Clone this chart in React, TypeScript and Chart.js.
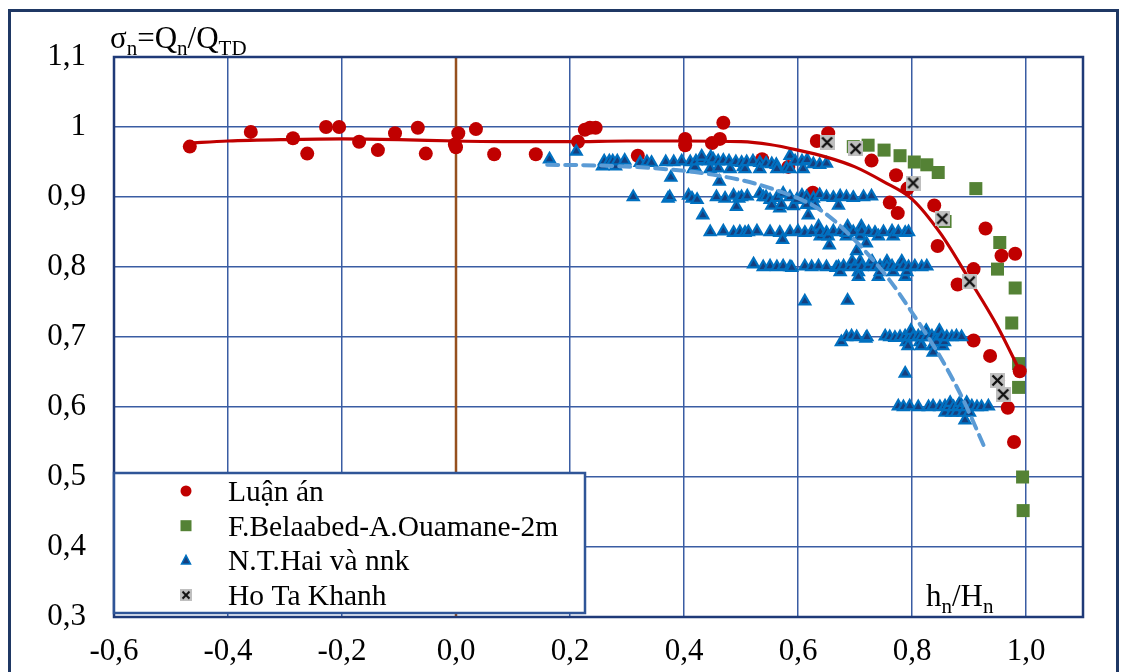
import React, { useEffect, useRef } from 'react';
import { Chart, registerables } from 'chart.js';

Chart.register(...registerables);

const SERIF = '"Liberation Serif", "Times New Roman", serif';

const xTicks = [-0.6, -0.4, -0.2, 0, 0.2, 0.4, 0.6, 0.8, 1.0];
const xTickLabels = ['-0,6', '-0,4', '-0,2', '0,0', '0,2', '0,4', '0,6', '0,8', '1,0'];
const yTicks = [0.3, 0.4, 0.5, 0.6, 0.7, 0.8, 0.9, 1.0, 1.1];
const yTickLabels = ['0,3', '0,4', '0,5', '0,6', '0,7', '0,8', '0,9', '1', '1,1'];

const seriesNames = ['Luận án', 'F.Belaabed-A.Ouamane-2m', 'N.T.Hai và nnk', 'Ho Ta Khanh'];

const luanAn: [number, number][] = [
  [-0.467, 0.972], [-0.36, 0.993], [-0.286, 0.984], [-0.261, 0.962], [-0.228, 1.0], [-0.205, 1.0],
  [-0.17, 0.979], [-0.137, 0.967], [-0.107, 0.991], [-0.067, 0.999], [-0.053, 0.962], [-0.002, 0.975],
  [0.0, 0.971], [0.004, 0.991], [0.035, 0.997], [0.067, 0.961], [0.14, 0.961], [0.214, 0.979],
  [0.226, 0.996], [0.235, 0.999], [0.245, 0.999], [0.319, 0.959], [0.402, 0.983], [0.402, 0.974],
  [0.449, 0.977], [0.463, 0.983], [0.469, 1.006], [0.537, 0.954], [0.583, 0.943], [0.626, 0.906],
  [0.633, 0.98], [0.653, 0.991], [0.729, 0.952], [0.772, 0.931], [0.792, 0.912], [0.761, 0.892],
  [0.775, 0.877], [0.839, 0.888], [0.845, 0.83], [0.929, 0.855], [0.957, 0.816], [0.981, 0.819],
  [0.908, 0.797], [0.88, 0.775], [0.908, 0.695], [0.937, 0.673], [0.989, 0.651], [0.968, 0.599],
  [0.979, 0.55], [0.951, 0.638],
];

const luanAnTrend: [number, number][] = [
  [-0.47, 0.977], [-0.4, 0.98], [-0.3, 0.982], [-0.2, 0.983], [-0.1, 0.982], [0, 0.98], [0.1, 0.979],
  [0.2, 0.979], [0.3, 0.98], [0.4, 0.98], [0.5, 0.979], [0.55, 0.975], [0.6, 0.967], [0.65, 0.957],
  [0.7, 0.943], [0.75, 0.922], [0.8, 0.897], [0.85, 0.848], [0.9, 0.783], [0.95, 0.715], [0.99, 0.65],
];

const belaabed: [number, number][] = [
  [0.697, 0.972], [0.723, 0.974], [0.751, 0.967], [0.779, 0.959], [0.804, 0.95], [0.826, 0.946],
  [0.846, 0.935], [0.912, 0.912], [0.858, 0.865], [0.954, 0.835], [0.95, 0.797], [0.981, 0.77],
  [0.975, 0.72], [0.987, 0.662], [0.987, 0.628], [0.994, 0.5], [0.995, 0.452],
];

const hoTaKhanh: [number, number][] = [
  [0.651, 0.978], [0.701, 0.969], [0.802, 0.92], [0.853, 0.869], [0.901, 0.779], [0.95, 0.638], [0.96, 0.618],
];

const haiBand95: [number, number][] = [
  [0.164, 0.954], [0.211, 0.965], [0.257, 0.944], [0.26, 0.951], [0.269, 0.951], [0.275, 0.951],
  [0.28, 0.944], [0.283, 0.951], [0.296, 0.952], [0.323, 0.949], [0.335, 0.95], [0.343, 0.949],
  [0.368, 0.95], [0.377, 0.928], [0.382, 0.95], [0.396, 0.951], [0.411, 0.95], [0.416, 0.94],
  [0.419, 0.943], [0.421, 0.951], [0.431, 0.953], [0.431, 0.958], [0.443, 0.951], [0.446, 0.94],
  [0.447, 0.957], [0.451, 0.954], [0.46, 0.951], [0.46, 0.941], [0.462, 0.922], [0.469, 0.952],
  [0.479, 0.951], [0.481, 0.94], [0.491, 0.95], [0.501, 0.949], [0.504, 0.943], [0.507, 0.94],
  [0.51, 0.95], [0.521, 0.951], [0.533, 0.949], [0.533, 0.94], [0.544, 0.948], [0.554, 0.947],
  [0.562, 0.946], [0.563, 0.94], [0.58, 0.941], [0.586, 0.959], [0.586, 0.94], [0.595, 0.951],
  [0.607, 0.951], [0.609, 0.94], [0.616, 0.953], [0.627, 0.947], [0.638, 0.946], [0.65, 0.948],
];

const haiBand90: [number, number][] = [
  [0.311, 0.9], [0.372, 0.898], [0.375, 0.9], [0.408, 0.902], [0.414, 0.898], [0.423, 0.896],
  [0.433, 0.874], [0.457, 0.9], [0.472, 0.898], [0.487, 0.902], [0.492, 0.886], [0.496, 0.898],
  [0.501, 0.9], [0.511, 0.901], [0.533, 0.905], [0.539, 0.9], [0.544, 0.9], [0.551, 0.896],
  [0.554, 0.888], [0.563, 0.899], [0.568, 0.884], [0.571, 0.889], [0.574, 0.905], [0.586, 0.9],
  [0.592, 0.887], [0.598, 0.896], [0.607, 0.902], [0.615, 0.9], [0.615, 0.889], [0.618, 0.874],
  [0.627, 0.898], [0.63, 0.888], [0.638, 0.903], [0.65, 0.9], [0.662, 0.899], [0.671, 0.888],
  [0.674, 0.901], [0.685, 0.9], [0.697, 0.899], [0.715, 0.9], [0.729, 0.901],
];

const haiBand85: [number, number][] = [
  [0.446, 0.85], [0.469, 0.851], [0.487, 0.849], [0.498, 0.85], [0.507, 0.849], [0.513, 0.85],
  [0.528, 0.851], [0.551, 0.85], [0.568, 0.849], [0.573, 0.839], [0.586, 0.85], [0.6, 0.851],
  [0.612, 0.849], [0.624, 0.85], [0.636, 0.858], [0.639, 0.844], [0.639, 0.85], [0.65, 0.849],
  [0.653, 0.844], [0.655, 0.831], [0.662, 0.851], [0.674, 0.85], [0.685, 0.844], [0.687, 0.858],
  [0.685, 0.849], [0.697, 0.85], [0.703, 0.823], [0.709, 0.844], [0.711, 0.858], [0.712, 0.851],
  [0.72, 0.834], [0.724, 0.85], [0.735, 0.849], [0.741, 0.844], [0.75, 0.85], [0.765, 0.851],
  [0.767, 0.844], [0.776, 0.85], [0.788, 0.849], [0.794, 0.85],
];

const haiBand80: [number, number][] = [
  [0.522, 0.804], [0.539, 0.8], [0.551, 0.801], [0.563, 0.8], [0.574, 0.801], [0.586, 0.8],
  [0.589, 0.799], [0.612, 0.801], [0.612, 0.751], [0.624, 0.8], [0.636, 0.801], [0.65, 0.8],
  [0.667, 0.799], [0.671, 0.8], [0.674, 0.793], [0.68, 0.801], [0.687, 0.752], [0.691, 0.8],
  [0.695, 0.808], [0.7, 0.801], [0.706, 0.793], [0.706, 0.786], [0.709, 0.808], [0.712, 0.8],
  [0.724, 0.801], [0.73, 0.808], [0.735, 0.8], [0.741, 0.786], [0.744, 0.793], [0.744, 0.801],
  [0.756, 0.808], [0.756, 0.8], [0.765, 0.801], [0.767, 0.793], [0.776, 0.8], [0.782, 0.808],
  [0.785, 0.801], [0.788, 0.786], [0.791, 0.793], [0.794, 0.8], [0.805, 0.801], [0.817, 0.8],
  [0.826, 0.801],
];

const haiBand70: [number, number][] = [
  [0.676, 0.693], [0.685, 0.7], [0.694, 0.701], [0.703, 0.7], [0.719, 0.698], [0.721, 0.7],
  [0.753, 0.701], [0.761, 0.7], [0.77, 0.699], [0.779, 0.7], [0.788, 0.701], [0.788, 0.648],
  [0.79, 0.693], [0.793, 0.687], [0.796, 0.7], [0.798, 0.709], [0.802, 0.7], [0.811, 0.701],
  [0.814, 0.693], [0.816, 0.687], [0.817, 0.7], [0.825, 0.709], [0.826, 0.7], [0.835, 0.701],
  [0.836, 0.687], [0.837, 0.678], [0.843, 0.7], [0.843, 0.693], [0.848, 0.709], [0.852, 0.701],
  [0.854, 0.687], [0.857, 0.693], [0.861, 0.7], [0.87, 0.7], [0.878, 0.701], [0.887, 0.7],
];

const haiBand60: [number, number][] = [
  [0.776, 0.601], [0.785, 0.6], [0.796, 0.601], [0.811, 0.6], [0.829, 0.6], [0.837, 0.601],
  [0.849, 0.6], [0.858, 0.601], [0.858, 0.592], [0.864, 0.6], [0.867, 0.606], [0.87, 0.592],
  [0.873, 0.6], [0.878, 0.592], [0.881, 0.601], [0.884, 0.606], [0.887, 0.6], [0.89, 0.592],
  [0.893, 0.581], [0.896, 0.6], [0.896, 0.606], [0.901, 0.592], [0.905, 0.601], [0.914, 0.6],
  [0.922, 0.6], [0.934, 0.601],
];

const haiTrend: [number, number][] = [
  [0.16, 0.946], [0.25, 0.945], [0.35, 0.941], [0.45, 0.932], [0.55, 0.913], [0.64, 0.881],
  [0.7, 0.838], [0.76, 0.782], [0.8, 0.735], [0.85, 0.671], [0.89, 0.61], [0.928, 0.541],
];

const C_RED = '#C00000';
const C_GREEN = '#548235';
const C_TRI_FILL = '#163F7E';
const C_TRI_EDGE = '#0070C0';
const C_DASH = '#5B9BD5';
const C_GRID = '#3A5DA3';
const C_FRAME = '#1F3A78';

const pts = (a: [number, number][]) => a.map(([x, y]) => ({ x, y }));

function makeCrossMarker(size: number, lw: number): HTMLCanvasElement {
  const c = document.createElement('canvas');
  c.width = size;
  c.height = size;
  const g = c.getContext('2d')!;
  g.fillStyle = '#BFBFBF';
  g.fillRect(0, 0, size, size);
  g.strokeStyle = '#111';
  g.lineWidth = lw;
  const m = 2.5;
  g.beginPath();
  g.moveTo(m, m);
  g.lineTo(size - m, size - m);
  g.moveTo(size - m, m);
  g.lineTo(m, size - m);
  g.stroke();
  return c;
}

function drawRich(ctx: CanvasRenderingContext2D, parts: [string, boolean][], x: number, base: number, size: number, subSize: number) {
  let cx = x;
  for (const [t, sub] of parts) {
    ctx.font = `${sub ? subSize : size}px ${SERIF}`;
    ctx.fillText(t, cx, sub ? base + 7 : base);
    cx += ctx.measureText(t).width;
  }
}

export default function App() {
  const ref = useRef<HTMLCanvasElement | null>(null);

  useEffect(() => {
    const canvas = ref.current;
    if (!canvas) return;
    const cross = makeCrossMarker(15, 2.4);
    const crossSmall = makeCrossMarker(12, 2);

    const decor = {
      id: 'decor',
      beforeDatasetsDraw(chart: any) {
        const { ctx, chartArea: a, scales } = chart;
        ctx.save();
        const x0 = scales.x.getPixelForValue(0);
        ctx.strokeStyle = '#96501E';
        ctx.lineWidth = 2.5;
        ctx.beginPath();
        ctx.moveTo(x0, a.top);
        ctx.lineTo(x0, a.bottom);
        ctx.stroke();
        ctx.strokeStyle = C_FRAME;
        ctx.lineWidth = 2.5;
        ctx.strokeRect(a.left, a.top, a.right - a.left, a.bottom - a.top);
        ctx.restore();
      },
      afterDraw(chart: any) {
        const { ctx } = chart;
        ctx.save();
        ctx.strokeStyle = '#1F3864';
        ctx.lineWidth = 3;
        ctx.strokeRect(9.5, 10.5, 1108, 700);

        ctx.fillStyle = '#000';
        ctx.textBaseline = 'alphabetic';
        ctx.textAlign = 'left';
        drawRich(ctx, [['σ', false], ['n', true], ['=Q', false], ['n', true], ['/Q', false], ['TD', true]], 110, 48, 31, 21);
        drawRich(ctx, [['h', false], ['n', true], ['/H', false], ['n', true]], 926, 606, 31, 21);

        const lx = 114, ly = 473, lw = 471, lh = 140;
        ctx.fillStyle = '#fff';
        ctx.fillRect(lx, ly, lw, lh);
        ctx.strokeStyle = '#2F5597';
        ctx.lineWidth = 2.5;
        ctx.strokeRect(lx, ly, lw, lh);
        const mx = 186;
        seriesNames.forEach((name, i) => {
          const cy = 491 + i * 34.7;
          if (i === 0) {
            ctx.fillStyle = C_RED;
            ctx.beginPath();
            ctx.arc(mx, cy, 5.5, 0, Math.PI * 2);
            ctx.fill();
          } else if (i === 1) {
            ctx.fillStyle = C_GREEN;
            ctx.fillRect(mx - 5.5, cy - 5.5, 11, 11);
          } else if (i === 2) {
            ctx.fillStyle = C_TRI_FILL;
            ctx.strokeStyle = C_TRI_EDGE;
            ctx.lineWidth = 1.5;
            ctx.beginPath();
            ctx.moveTo(mx, cy - 5);
            ctx.lineTo(mx + 4.5, cy + 3.5);
            ctx.lineTo(mx - 4.5, cy + 3.5);
            ctx.closePath();
            ctx.fill();
            ctx.stroke();
          } else {
            ctx.drawImage(crossSmall, mx - 6, cy - 6);
          }
          ctx.fillStyle = '#000';
          ctx.font = `29.5px ${SERIF}`;
          ctx.fillText(name, 228, cy + 10);
        });
        ctx.restore();
      },
    };

    const chart = new Chart(canvas, {
      type: 'scatter',
      data: {
        datasets: [
          {
            label: seriesNames[3],
            data: pts(hoTaKhanh),
            pointStyle: cross as any,
            pointRadius: 7.5,
          },
          {
            label: 'trend1',
            data: pts(luanAnTrend),
            showLine: true,
            borderColor: C_RED,
            borderWidth: 3.2,
            pointRadius: 0,
            cubicInterpolationMode: 'monotone',
          },
          {
            label: 'trend2',
            data: pts(haiTrend),
            showLine: true,
            borderColor: C_DASH,
            borderWidth: 4,
            borderDash: [11, 7],
            borderCapStyle: 'round',
            pointRadius: 0,
            cubicInterpolationMode: 'monotone',
          },
          {
            label: seriesNames[2],
            data: pts([...haiBand95, ...haiBand90, ...haiBand85, ...haiBand80, ...haiBand70, ...haiBand60]),
            pointStyle: 'triangle',
            pointRadius: 6.3,
            backgroundColor: C_TRI_FILL,
            borderColor: C_TRI_EDGE,
            borderWidth: 2.2,
          },
          {
            label: seriesNames[0],
            data: pts(luanAn),
            pointStyle: 'circle',
            pointRadius: 7,
            backgroundColor: C_RED,
            borderColor: C_RED,
            borderWidth: 0,
          },
          {
            label: seriesNames[1],
            data: pts(belaabed),
            pointStyle: 'rect',
            pointRadius: 9.2,
            backgroundColor: C_GREEN,
            borderColor: C_GREEN,
            borderWidth: 0,
          },
        ] as any,
      },
      options: {
        responsive: false,
        animation: false,
        devicePixelRatio: 1,
        layout: { padding: { left: 0, top: 57, right: 43, bottom: 0 } },
        plugins: { legend: { display: false }, tooltip: { enabled: false } },
        scales: {
          x: {
            type: 'linear',
            min: -0.6,
            max: 1.1,
            afterBuildTicks: (s: any) => { s.ticks = xTicks.map((v) => ({ value: v })); },
            afterFit: (s: any) => { s.height = 55; },
            ticks: {
              autoSkip: false,
              maxRotation: 0,
              padding: 16,
              color: '#000',
              font: { family: SERIF, size: 31 },
              callback: (_v: any, i: number) => xTickLabels[i],
            },
            grid: { color: C_GRID, lineWidth: 1.5, drawTicks: false },
            border: { display: false },
          },
          y: {
            type: 'linear',
            min: 0.3,
            max: 1.1,
            afterBuildTicks: (s: any) => { s.ticks = yTicks.map((v) => ({ value: v })); },
            afterFit: (s: any) => { s.width = 114; },
            ticks: {
              autoSkip: false,
              padding: 28,
              color: '#000',
              font: { family: SERIF, size: 31 },
              callback: (_v: any, i: number) => yTickLabels[i],
            },
            grid: { color: C_GRID, lineWidth: 1.5, drawTicks: false },
            border: { display: false },
          },
        },
      } as any,
      plugins: [decor],
    });
    return () => chart.destroy();
  }, []);

  return (
    <div style={{ position: 'fixed', left: 0, top: 0, width: 1126, height: 672, background: '#fff' }}>
      <canvas ref={ref} width={1126} height={672} style={{ width: 1126, height: 672, display: 'block' }} />
    </div>
  );
}
